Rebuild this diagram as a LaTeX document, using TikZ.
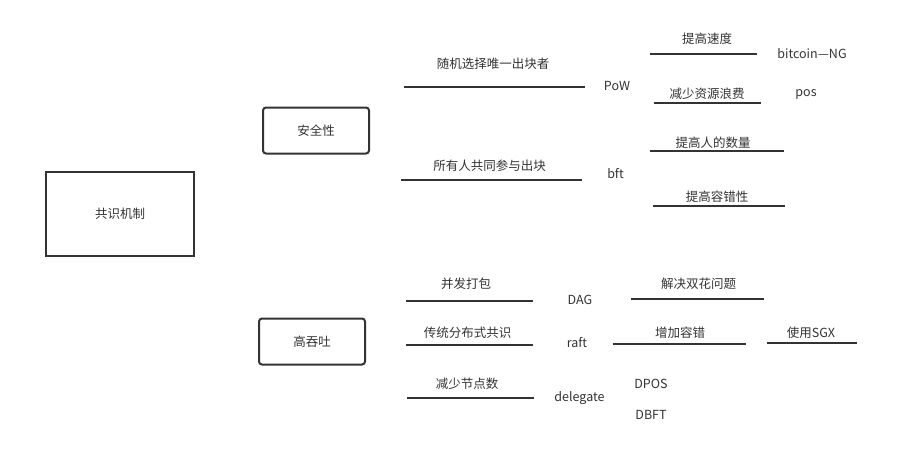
\documentclass[tikz,border=0pt]{standalone}
\usepackage{fontspec}
\setmainfont{Noto Sans CJK SC}
\begin{document}
\begin{tikzpicture}[x=1pt,y=-1pt,
  every node/.style={text=black!80, font=\fontsize{12.5}{15}\selectfont, inner sep=0pt},
  bar/.style={draw=black!80, line width=2pt},
  mainbox/.style={draw=black!80, line width=2pt, minimum width=148pt, minimum height=84pt},
  subbox/.style={draw=black!80, line width=2pt, rounded corners=3pt, minimum width=106pt, minimum height=46pt}]
\useasboundingbox (0,0) rectangle (920,455);
% boxes
\node[mainbox] (main) at (120,214) {共识机制};
\node[subbox] (safe) at (316,130.5) {安全性};
\node[subbox] (tput) at (312,341.5) {高吞吐};
% text labels
\node (t1) at (493,64) {随机选择唯一出块者};
\node (pow) at (617,86) {PoW};
\node (t2) at (707,39) {提高速度};
\node (btc) at (812,53.5) {bitcoin—NG};
\node (t3) at (707,93.5) {减少资源浪费};
\node (pos) at (806,94) {pos};
\node (t4) at (713,142.5) {提高人的数量};
\node (t5) at (489.5,165.5) {所有人共同参与出块};
\node (bft) at (615.5,174) {bft};
\node (t6) at (717,196.5) {提高容错性};
\node (t7) at (466,283.5) {并发打包};
\node (dag) at (580,300) {DAG};
\node (t8) at (698.5,284) {解决双花问题};
\node (t9) at (467.5,332.5) {传统分布式共识};
\node (raft) at (577,342.5) {raft};
\node (t10) at (680,332.5) {增加容错};
\node (t11) at (811,332.5) {使用SGX};
\node (t12) at (467,384) {减少节点数};
\node (dele) at (579.5,398) {delegate};
\node (dpos) at (651,384) {DPOS};
\node (dbft) at (651,415) {DBFT};
% line endpoints
\coordinate (a1) at (404,86.7);   \coordinate (b1) at (584.5,86.7);
\coordinate (a2) at (649.5,53.7); \coordinate (b2) at (756.5,53.7);
\coordinate (a3) at (653.5,102.7);\coordinate (b3) at (760.5,102.7);
\coordinate (a4) at (650,150.7);  \coordinate (b4) at (783.5,150.7);
\coordinate (a5) at (401,180);    \coordinate (b5) at (582,180);
\coordinate (a6) at (652.5,205.7);\coordinate (b6) at (785,205.7);
\coordinate (a7) at (406,301);    \coordinate (b7) at (532.5,301);
\coordinate (a8) at (630.5,298.7);\coordinate (b8) at (764,298.7);
\coordinate (a9) at (406,344.7);  \coordinate (b9) at (532.5,344.7);
\coordinate (a10) at (612.5,343.7);\coordinate (b10) at (745.5,343.7);
\coordinate (a11) at (766.5,342.7);\coordinate (b11) at (856.5,342.7);
\coordinate (a12) at (406.5,398.3);\coordinate (b12) at (533.5,398.3);
\foreach \i in {1,...,12} {\draw[bar] (a\i) -- (b\i);}
\end{tikzpicture}
\end{document}
